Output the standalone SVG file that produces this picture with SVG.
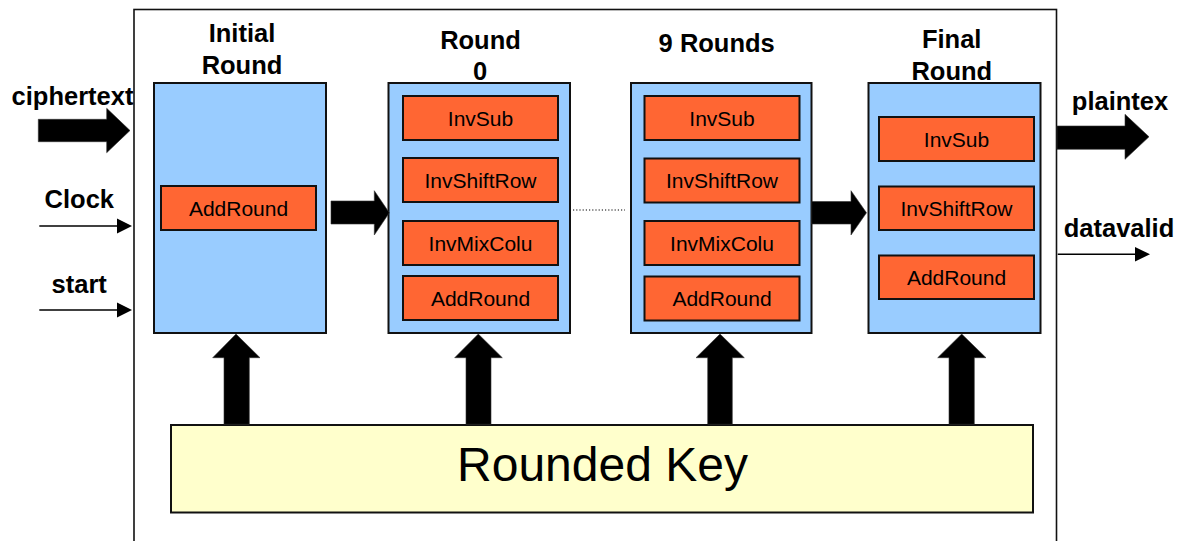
<svg xmlns="http://www.w3.org/2000/svg" width="1179" height="541" viewBox="0 0 1179 541">
<style>
.frame{fill:none;stroke:#111;stroke-width:1.6}
.round{fill:#99CCFF;stroke:#111;stroke-width:2}
.step{fill:#FF6633;stroke:#111;stroke-width:2}
.key{fill:#FFFFCC;stroke:#111;stroke-width:2}
.title{font-family:"Liberation Sans",Arial,sans-serif;font-weight:bold;font-size:25.5px;fill:#000;text-anchor:middle}
.lbl{font-family:"Liberation Sans",Arial,sans-serif;font-size:21px;fill:#000;text-anchor:middle}
.big{font-family:"Liberation Sans",Arial,sans-serif;font-size:48px;fill:#000;text-anchor:middle}
.fat{fill:#000;stroke:#333;stroke-width:0.6}
.thin{stroke:#000;stroke-width:1.5;fill:none}
.head{fill:#000}
.dots{stroke:#000;stroke-width:1.2;stroke-dasharray:1.2 2;fill:none}
</style>
<rect width="1179" height="541" fill="#fff"/>
<rect id="frame" class="frame" x="134" y="9.5" width="922.5" height="560"/>

<g id="io-labels">
<text class="title" x="72.5" y="105">ciphertext</text>
<text class="title" x="79.3" y="208.3">Clock</text>
<text class="title" x="79.2" y="293.3">start</text>
<text class="title" x="1120" y="110">plaintex</text>
<text class="title" x="1119" y="236.7">datavalid</text>
</g>

<g id="initial-round">
<text class="title" x="242" y="41.7">Initial</text>
<text class="title" x="242" y="74">Round</text>
<rect class="round" x="154" y="83" width="172" height="250"/>
<rect class="step" x="161" y="186" width="155" height="44"/>
<text class="lbl" x="238.5" y="215.5">AddRound</text>
</g>

<g id="round-0">
<text class="title" x="480.5" y="49.3">Round</text>
<text class="title" x="480" y="80">0</text>
<rect class="round" x="388.5" y="83" width="181.5" height="250"/>
<rect class="step" x="403" y="96" width="155" height="44"/>
<text class="lbl" x="480.5" y="125.5">InvSub</text>
<rect class="step" x="403" y="158" width="155" height="44"/>
<text class="lbl" x="480.5" y="187.5">InvShiftRow</text>
<rect class="step" x="403" y="221" width="155" height="44"/>
<text class="lbl" x="480.5" y="250.5">InvMixColu</text>
<rect class="step" x="403" y="276" width="155" height="44"/>
<text class="lbl" x="480.5" y="305.5">AddRound</text>
</g>

<g id="nine-rounds">
<text class="title" x="716.7" y="51.7">9 Rounds</text>
<rect class="round" x="631" y="83" width="180.5" height="250"/>
<rect class="step" x="644.5" y="96" width="155" height="44"/>
<text class="lbl" x="722" y="125.5">InvSub</text>
<rect class="step" x="644.5" y="158.5" width="155" height="44"/>
<text class="lbl" x="722" y="188">InvShiftRow</text>
<rect class="step" x="644.5" y="221" width="155" height="44"/>
<text class="lbl" x="722" y="250.5">InvMixColu</text>
<rect class="step" x="644.5" y="276.5" width="155" height="44"/>
<text class="lbl" x="722" y="306">AddRound</text>
</g>

<g id="final-round">
<text class="title" x="951.7" y="48.3">Final</text>
<text class="title" x="951.8" y="80">Round</text>
<rect class="round" x="868.5" y="83" width="172" height="250"/>
<rect class="step" x="879" y="117" width="155" height="44"/>
<text class="lbl" x="956.5" y="146.5">InvSub</text>
<rect class="step" x="879" y="186.5" width="155" height="43.5"/>
<text class="lbl" x="956.5" y="215.7">InvShiftRow</text>
<rect class="step" x="879" y="255.5" width="155" height="43.5"/>
<text class="lbl" x="956.5" y="284.7">AddRound</text>
</g>

<g id="rounded-key">
<rect class="key" x="171" y="425" width="862" height="87.5"/>
<text class="big" x="602.5" y="480.7">Rounded Key</text>
</g>

<g id="connectors">
<!-- ciphertext input -->
<polygon class="fat" points="38.3,119.3 106.7,119.3 106.7,108.3 130,130.5 106.7,152.7 106.7,141.7 38.3,141.7"/>
<!-- clock / start -->
<line class="thin" x1="39.3" y1="226" x2="118" y2="226"/>
<polygon class="head" points="117,218.5 132,226 117,233.5"/>
<line class="thin" x1="39.3" y1="310" x2="118" y2="310"/>
<polygon class="head" points="117,302.5 132,310 117,317.5"/>
<!-- initial to round0 -->
<polygon class="fat" points="331,201 374.3,201 374.3,190.7 389.3,212.8 374.3,235 374.3,224 331,224"/>
<!-- dotted link -->
<line class="dots" x1="573" y1="210" x2="625" y2="210"/>
<!-- 9 rounds to final -->
<polygon class="fat" points="811.7,201.5 851,201.5 851,190.7 866.5,212.8 851,235 851,224 811.7,224"/>
<!-- plaintext output -->
<polygon class="fat" points="1057,126 1125,126 1125,114.3 1149,136.8 1125,159.3 1125,149.3 1057,149.3"/>
<!-- datavalid output -->
<line class="thin" x1="1057.7" y1="254.3" x2="1136" y2="254.3"/>
<polygon class="head" points="1135,247 1150,254.3 1135,261.6"/>
<!-- key up arrows -->
<polygon class="fat" points="224,424.3 224,357.7 212.7,357.7 236,334 260,357.7 249.3,357.7 249.3,424.3"/>
<polygon class="fat" points="466,424.3 466,357.7 454.7,357.7 478.3,334 502.3,357.7 491,357.7 491,424.3"/>
<polygon class="fat" points="707.7,424.3 707.7,357.7 696,357.7 720,334 744.3,357.7 732.3,357.7 732.3,424.3"/>
<polygon class="fat" points="949,424.3 949,357.7 937.7,357.7 961.7,334 986,357.7 974.3,357.7 974.3,424.3"/>
</g>
</svg>
